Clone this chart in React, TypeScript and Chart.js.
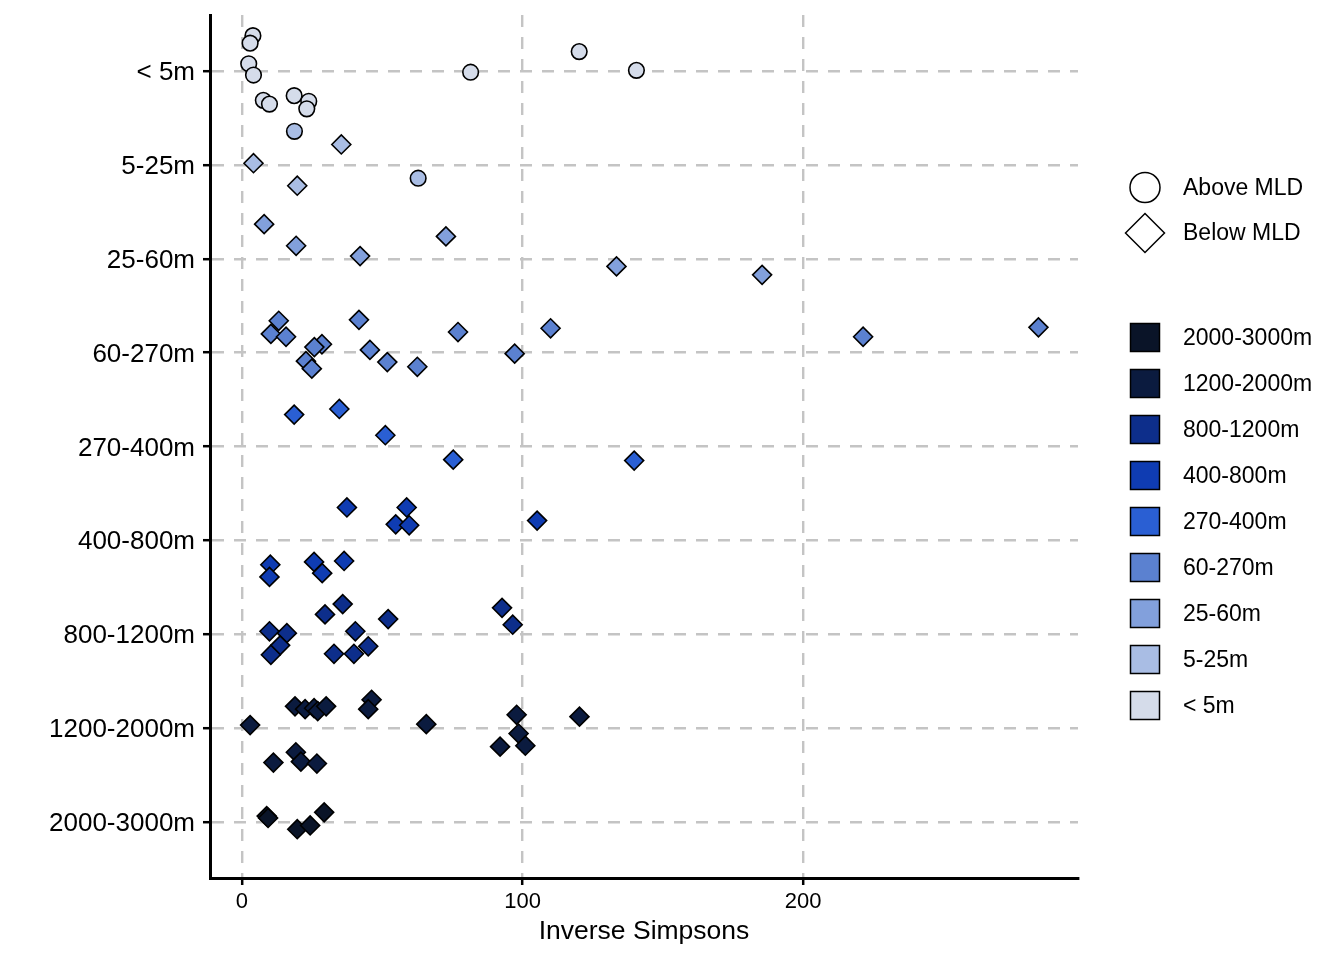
import { useEffect, useRef } from "react";
import { Chart, registerables } from "chart.js";

Chart.register(...registerables);

const FONT = '"Liberation Sans", Arial, Helvetica, sans-serif';

const DEPTHS = ["< 5m", "5-25m", "25-60m", "60-270m", "270-400m", "400-800m", "800-1200m", "1200-2000m", "2000-3000m"];
const DEPTH_COLORS = ["#d5dcea", "#a9bde4", "#82a0dc", "#5b81d0", "#2a5fd3", "#0f3cb2", "#0d2e8b", "#0b1b3f", "#0a1428"];
const X_TICKS = [0, 100, 200];
const MLD_LABELS = ["Above MLD", "Below MLD"];

// [inverse simpsons, jitter around the depth row]
const ABOVE_LT5 = [[3.9, -0.38], [2.9, -0.3], [2.4, -0.08], [4.1, 0.04], [7.6, 0.31], [9.8, 0.35], [18.6, 0.26], [23.8, 0.32], [23.1, 0.4], [81.5, 0.01], [120.2, -0.21], [140.6, -0.01]];
const ABOVE_5_25 = [[18.7, -0.36], [62.8, 0.14]];
const BELOW_5_25 = [[35.4, -0.22], [4.1, -0.02], [19.7, 0.22]];
const BELOW_25_60 = [[7.9, -0.37], [19.3, -0.14], [42.1, -0.03], [72.7, -0.24], [133.5, 0.08], [185.4, 0.17]];
const BELOW_60_270 = [[13.1, -0.34], [10.3, -0.2], [15.7, -0.17], [28.5, -0.09], [25.8, -0.06], [22.8, 0.09], [24.9, 0.17], [41.7, -0.35], [45.6, -0.03], [51.8, 0.1], [62.5, 0.15], [77.0, -0.22], [97.2, 0.01], [110.0, -0.26], [221.4, -0.17], [283.9, -0.27]];
const BELOW_270_400 = [[18.6, -0.34], [34.7, -0.4], [51.1, -0.12], [75.3, 0.14], [139.8, 0.15]];
const BELOW_400_800 = [[37.4, -0.35], [58.7, -0.35], [54.8, -0.17], [59.6, -0.16], [105.2, -0.21], [10.1, 0.26], [9.8, 0.39], [25.7, 0.23], [28.6, 0.35], [36.4, 0.22]];
const BELOW_800_1200 = [[35.9, -0.32], [29.6, -0.21], [52.1, -0.16], [92.7, -0.28], [96.5, -0.1], [9.8, -0.03], [16.0, -0.01], [13.6, 0.12], [10.3, 0.22], [40.4, -0.03], [45.0, 0.13], [32.8, 0.21], [39.9, 0.21]];
const BELOW_1200_2000 = [[18.9, -0.23], [22.5, -0.2], [25.7, -0.21], [27.0, -0.18], [30.0, -0.23], [46.2, -0.3], [45.0, -0.2], [2.9, -0.03], [65.7, -0.04], [97.9, -0.14], [120.3, -0.12], [98.6, 0.06], [92.0, 0.2], [101.0, 0.19], [11.2, 0.37], [19.2, 0.26], [21.0, 0.36], [26.7, 0.38]];
const BELOW_2000_3000 = [[8.8, -0.06], [9.3, -0.04], [29.3, -0.1], [19.7, 0.08], [24.3, 0.04]];

const GROUPS = [
  { depth: 0, above: true, points: ABOVE_LT5 },
  { depth: 1, above: true, points: ABOVE_5_25 },
  { depth: 1, above: false, points: BELOW_5_25 },
  { depth: 2, above: false, points: BELOW_25_60 },
  { depth: 3, above: false, points: BELOW_60_270 },
  { depth: 4, above: false, points: BELOW_270_400 },
  { depth: 5, above: false, points: BELOW_400_800 },
  { depth: 6, above: false, points: BELOW_800_1200 },
  { depth: 7, above: false, points: BELOW_1200_2000 },
  { depth: 8, above: false, points: BELOW_2000_3000 },
];

// draws the shape legend and the depth colour legend to the right of the panel
const legendPlugin = {
  id: "mldLegend",
  afterDraw(chart: Chart) {
    const { ctx, chartArea } = chart;
    const cx = chartArea.right + 67;
    const tx = chartArea.right + 105;
    const mid = (chartArea.top + chartArea.bottom) / 2;
    ctx.save();
    ctx.font = `23px ${FONT}`;
    ctx.textBaseline = "middle";
    ctx.textAlign = "left";
    ctx.strokeStyle = "#000";
    ctx.lineWidth = 1.5;

    const yCircle = mid - 259;
    const yDiamond = yCircle + 45.5;
    ctx.beginPath();
    ctx.arc(cx, yCircle, 15, 0, Math.PI * 2);
    ctx.stroke();
    ctx.beginPath();
    ctx.moveTo(cx - 19.5, yDiamond);
    ctx.lineTo(cx, yDiamond - 19.5);
    ctx.lineTo(cx + 19.5, yDiamond);
    ctx.lineTo(cx, yDiamond + 19.5);
    ctx.closePath();
    ctx.stroke();
    ctx.fillStyle = "#000";
    ctx.fillText(MLD_LABELS[0], tx, yCircle + 1);
    ctx.fillText(MLD_LABELS[1], tx, yDiamond + 1);

    const yFirst = mid - 109;
    for (let k = 0; k < DEPTHS.length; k++) {
      const i = DEPTHS.length - 1 - k;
      const y = yFirst + k * 46;
      ctx.fillStyle = DEPTH_COLORS[i];
      ctx.fillRect(cx - 14.5, y - 14, 29, 28);
      ctx.strokeRect(cx - 14.5, y - 14, 29, 28);
      ctx.fillStyle = "#000";
      ctx.fillText(DEPTHS[i], tx, y + 1);
    }
    ctx.restore();
  },
};

export default function App() {
  const canvasRef = useRef<HTMLCanvasElement>(null);
  const chartRef = useRef<Chart | null>(null);

  useEffect(() => {
    if (!canvasRef.current) return;
    if (chartRef.current) chartRef.current.destroy();

    const datasets = GROUPS.map((g) => ({
      label: `${DEPTHS[g.depth]} ${g.above ? MLD_LABELS[0] : MLD_LABELS[1]}`,
      data: g.points.map(([x, j]) => ({ x, y: g.depth + j })),
      pointStyle: g.above ? "circle" : "rectRot",
      pointRadius: g.above ? 7.8 : 9.5,
      backgroundColor: DEPTH_COLORS[g.depth],
      borderColor: "#000",
      borderWidth: 1.6,
    }));

    const gridOpts = {
      color: "#c4c4c4",
      lineWidth: 2.4,
      drawTicks: true,
      tickLength: 7,
      tickColor: "#000",
      tickWidth: 2.5,
    };

    chartRef.current = new Chart(canvasRef.current, {
      type: "scatter",
      data: { datasets },
      options: {
        animation: false,
        responsive: true,
        maintainAspectRatio: false,
        events: [],
        layout: { padding: { left: 0, top: 15, right: 266, bottom: 0 } },
        plugins: {
          legend: { display: false },
          tooltip: { enabled: false },
        },
        scales: {
          x: {
            type: "linear",
            min: -11.4,
            max: 298,
            afterBuildTicks: (axis: any) => {
              axis.ticks = X_TICKS.map((value) => ({ value }));
            },
            afterFit: (axis: any) => {
              axis.height = 82;
              axis.paddingLeft = 0;
              axis.paddingRight = 0;
            },
            grid: gridOpts,
            border: { display: true, color: "#000", width: 3, dash: [12, 10] },
            ticks: {
              padding: 4,
              color: "#000",
              font: { family: FONT, size: 22 },
              maxRotation: 0,
            },
            title: {
              display: true,
              text: "Inverse Simpsons",
              color: "#000",
              font: { family: FONT, size: 26.5 },
              padding: { top: 0, bottom: 12 },
            },
          },
          y: {
            type: "linear",
            reverse: true,
            min: -0.6,
            max: 8.6,
            afterBuildTicks: (axis: any) => {
              axis.ticks = DEPTHS.map((_, i) => ({ value: i }));
            },
            afterFit: (axis: any) => {
              axis.width = 210;
              axis.paddingTop = 0;
              axis.paddingBottom = 0;
            },
            grid: gridOpts,
            border: { display: true, color: "#000", width: 3, dash: [12, 10] },
            ticks: {
              padding: 8,
              labelOffset: 2,
              color: "#000",
              font: { family: FONT, size: 26 },
              callback: (v: any) => DEPTHS[v] ?? "",
            },
          },
        },
      },
      plugins: [legendPlugin],
    });

    return () => {
      if (chartRef.current) {
        chartRef.current.destroy();
        chartRef.current = null;
      }
    };
  }, []);

  return (
    <div style={{ position: "absolute", left: 0, top: 0, width: 1344, height: 960, background: "#fff" }}>
      <canvas ref={canvasRef} />
    </div>
  );
}
